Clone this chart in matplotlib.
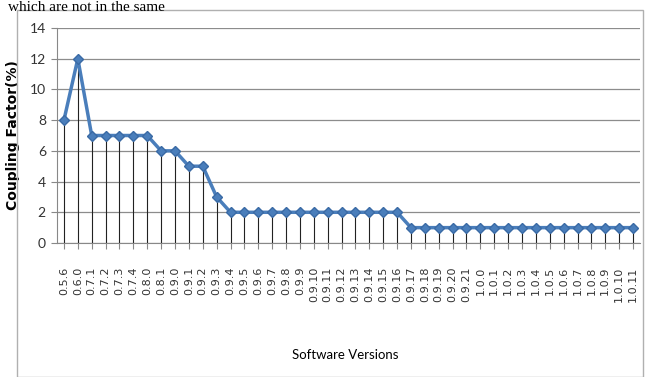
import matplotlib
matplotlib.use('Agg')
import matplotlib.pyplot as plt
from matplotlib.patches import Rectangle

versions = ['0.5.6', '0.6.0', '0.7.1', '0.7.2', '0.7.3', '0.7.4', '0.8.0', '0.8.1',
            '0.9.0', '0.9.1', '0.9.2', '0.9.3', '0.9.4', '0.9.5', '0.9.6', '0.9.7',
            '0.9.8', '0.9.9', '0.9.10', '0.9.11', '0.9.12', '0.9.13', '0.9.14',
            '0.9.15', '0.9.16', '0.9.17', '0.9.18', '0.9.19', '0.9.20', '0.9.21',
            '1.0.0', '1.0.1', '1.0.2', '1.0.3', '1.0.4', '1.0.5', '1.0.6', '1.0.7',
            '1.0.8', '1.0.9', '1.0.10', '1.0.11']
coupling = [8, 12, 7, 7, 7, 7, 7, 6, 6, 5, 5, 3,
            2, 2, 2, 2, 2, 2, 2, 2, 2, 2, 2, 2, 2,
            1, 1, 1, 1, 1, 1, 1, 1, 1, 1, 1, 1, 1, 1, 1, 1, 1]
yticks = [0, 2, 4, 6, 8, 10, 12, 14]

fig = plt.figure(figsize=(6.49, 3.77), dpi=100)
ax = fig.add_axes([57/649, 1-243/377, 583/649, 215/377])

# outer chart border and the sentence from the page above
fig.patches.append(Rectangle((17/649, 0), 626/649, 1-10/377, transform=fig.transFigure,
                             fill=False, edgecolor='#b0b0b0', linewidth=1))
fig.text(0.012, 0.998, 'which are not in the same', family='Liberation Serif',
         fontsize=11, va='top', ha='left')

x = list(range(len(versions)))
ax.vlines(x, 0, coupling, colors='#222222', linewidth=0.8, zorder=2)
ax.plot(x, coupling, color='#4a7ebb', linewidth=2.5, marker='D', markersize=5,
        markerfacecolor='#4a7ebb', markeredgecolor='#3a6aa5', zorder=3)

ax.set_xlim(-0.5, len(versions) - 0.5)
ax.set_ylim(0, 14)
ax.set_yticks(yticks)
ax.set_yticklabels([str(v) for v in yticks], family='Lato',
                   fontsize=10, color='#333333')
ax.set_xticks(x)
ax.set_xticklabels(versions, rotation=90, fontsize=8, color='#333333')
ax.tick_params(axis='y', length=4, color='#888888', pad=4)
ax.tick_params(axis='x', length=4, color='#888888', pad=13)
ax.yaxis.grid(True, color='#8c8c8c', linewidth=0.9)
ax.set_axisbelow(True)
for s in ['top', 'right']:
    ax.spines[s].set_visible(False)
ax.spines['left'].set_color('#888888')
ax.spines['bottom'].set_color('#888888')

ax.set_ylabel('Coupling Factor(%)', fontsize=10, fontweight='bold', labelpad=7)
fig.text(345/649, 1-355/377, 'Software Versions', family='Lato',
         fontsize=9.5, ha='center', va='center')

fig.savefig('out.png', dpi=100)
